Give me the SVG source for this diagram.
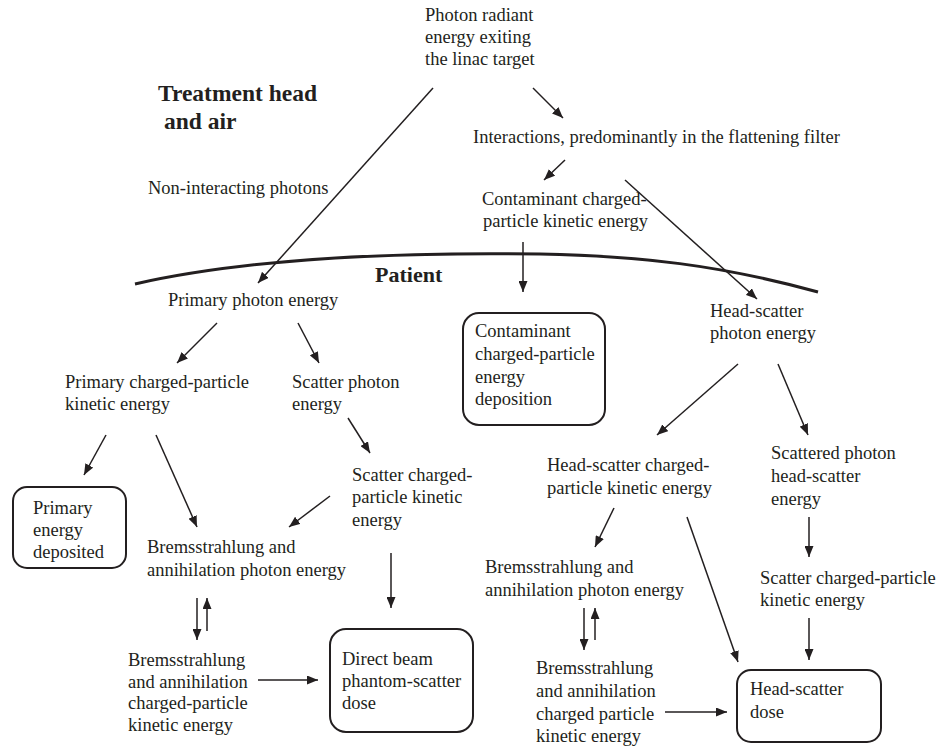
<svg xmlns="http://www.w3.org/2000/svg" width="942" height="747" viewBox="0 0 942 747">
<style>
text{font-family:"Liberation Serif","Times New Roman",serif;font-size:18.5px;fill:#231f20}
.b{font-weight:bold;font-size:22px}
.t{font-weight:bold;font-size:23.5px}
.box{fill:none;stroke:#231f20;stroke-width:2}
.c line{stroke:#231f20;stroke-width:1.5;marker-end:url(#ah)}
</style>
<defs>
<marker id="ah" markerUnits="userSpaceOnUse" markerWidth="11" markerHeight="9" refX="11" refY="4.5" orient="auto">
<path d="M0,0 L11,4.5 L0,9 z" fill="#231f20"/>
</marker>
</defs>
<rect width="942" height="747" fill="#fff"/>
<g id="labels">
<text class="t" x="158" y="101">Treatment head</text>
<text class="t" x="164" y="129">and air</text>
<text class="b" x="375" y="282">Patient</text>
<text x="148" y="194">Non-interacting photons</text>
</g>
<path id="boundary" d="M135,284 C250,258 400,252 540,254 C640,256 720,265 818,292" fill="none" stroke="#231f20" stroke-width="3"/>
<g id="n-photon"><text x="425" y="21">Photon radiant</text><text x="425" y="43">energy exiting</text><text x="425" y="65">the linac target</text></g>
<g id="n-interactions"><text x="473" y="143">Interactions, predominantly in the flattening filter</text></g>
<g id="n-contam"><text x="482" y="205">Contaminant charged-</text><text x="483" y="227">particle kinetic energy</text></g>
<g id="n-contam-dep"><rect class="box" x="463" y="313" width="142" height="112" rx="16"/><text x="475" y="337">Contaminant</text><text x="475" y="360">charged-particle</text><text x="475" y="383">energy</text><text x="475" y="405">deposition</text></g>
<g id="n-primary-photon"><text x="168" y="306">Primary photon energy</text></g>
<g id="n-head-scatter"><text x="710" y="317">Head-scatter</text><text x="710" y="339">photon energy</text></g>
<g id="n-primary-cp"><text x="65" y="388">Primary charged-particle</text><text x="65" y="410">kinetic energy</text></g>
<g id="n-scatter-photon"><text x="292" y="388">Scatter photon</text><text x="292" y="410">energy</text></g>
<g id="n-primary-dep"><rect class="box" x="13" y="487" width="113" height="81" rx="14"/><text x="33" y="514">Primary</text><text x="33" y="536">energy</text><text x="33" y="558">deposited</text></g>
<g id="n-scatter-cp"><text x="352" y="481">Scatter charged-</text><text x="352" y="503">particle kinetic</text><text x="352" y="526">energy</text></g>
<g id="n-brems-l"><text x="147" y="553">Bremsstrahlung and</text><text x="147" y="576">annihilation photon energy</text></g>
<g id="n-brems-cp-l"><text x="128" y="666">Bremsstrahlung</text><text x="128" y="688">and annihilation</text><text x="128" y="709">charged-particle</text><text x="128" y="731">kinetic energy</text></g>
<g id="n-direct"><rect class="box" x="330" y="629" width="143" height="103" rx="16"/><text x="342" y="665">Direct beam</text><text x="342" y="687">phantom-scatter</text><text x="342" y="709">dose</text></g>
<g id="n-hs-cp"><text x="547" y="471">Head-scatter charged-</text><text x="547" y="494">particle kinetic energy</text></g>
<g id="n-scattered"><text x="771" y="459">Scattered photon</text><text x="771" y="482">head-scatter</text><text x="771" y="505">energy</text></g>
<g id="n-brems-r"><text x="485" y="573">Bremsstrahlung and</text><text x="485" y="596">annihilation photon energy</text></g>
<g id="n-scatter-cp-r"><text x="760" y="584">Scatter charged-particle</text><text x="760" y="606">kinetic energy</text></g>
<g id="n-brems-cp-r"><text x="536" y="674">Bremsstrahlung</text><text x="536" y="697">and annihilation</text><text x="536" y="720">charged particle</text><text x="536" y="742">kinetic energy</text></g>
<g id="n-hs-dose"><rect class="box" x="737" y="670" width="144" height="72" rx="14"/><text x="750" y="695">Head-scatter</text><text x="750" y="718">dose</text></g>
<g id="connectors" class="c">
<line x1="533" y1="88" x2="563" y2="118"/>
<line x1="433" y1="88" x2="258" y2="283"/>
<line x1="565" y1="160" x2="544" y2="180"/>
<line x1="625" y1="180" x2="757" y2="299"/>
<line x1="523" y1="242" x2="523" y2="292"/>
<line x1="217" y1="323" x2="177" y2="363"/>
<line x1="298" y1="323" x2="319" y2="363"/>
<line x1="738" y1="364" x2="657" y2="435"/>
<line x1="778" y1="364" x2="808" y2="435"/>
<line x1="106" y1="435" x2="84" y2="475"/>
<line x1="156" y1="435" x2="197" y2="527"/>
<line x1="348" y1="418" x2="370" y2="453"/>
<line x1="330" y1="496" x2="289" y2="527"/>
<line x1="391" y1="553" x2="391" y2="608"/>
<line x1="197" y1="598" x2="197" y2="640"/>
<line x1="207" y1="631" x2="207" y2="598"/>
<line x1="258" y1="680" x2="318" y2="680"/>
<line x1="614" y1="508" x2="595" y2="547"/>
<line x1="687" y1="517" x2="738" y2="662"/>
<line x1="809" y1="517" x2="809" y2="557"/>
<line x1="584" y1="608" x2="584" y2="650"/>
<line x1="595" y1="640" x2="595" y2="608"/>
<line x1="665" y1="712" x2="727" y2="712"/>
<line x1="809" y1="618" x2="809" y2="660"/>
</g>
</svg>
